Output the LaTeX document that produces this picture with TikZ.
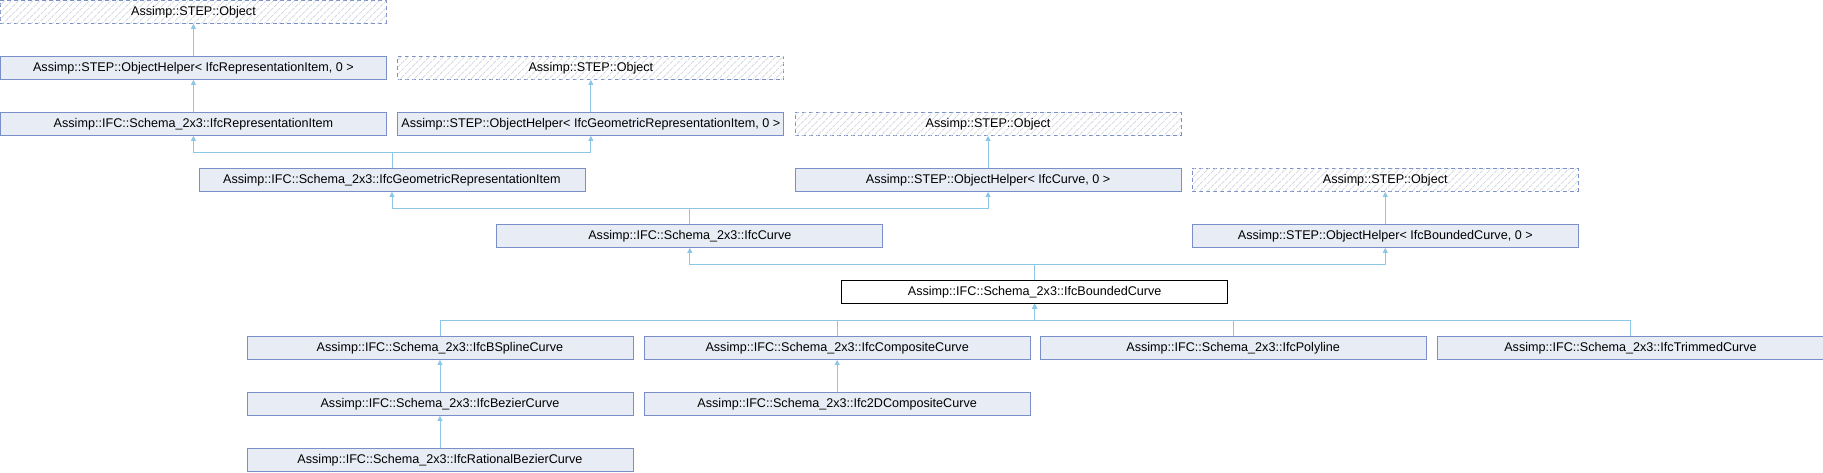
\documentclass[tikz,border=0pt]{standalone}
\usepackage{fontspec}
\setmainfont{Liberation Sans}
\usepackage{tikz}
\usetikzlibrary{arrows.meta,patterns.meta}
\definecolor{boxfill}{HTML}{E8ECF5}
\definecolor{boxline}{HTML}{7A8FC8}
\definecolor{edgeblue}{HTML}{8EC6E6}
\definecolor{hatch}{HTML}{D2D6DE}
\tikzset{
  cls/.style={draw=boxline,fill=boxfill,line width=.9pt,minimum width=386pt,minimum height=23pt,
    anchor=north west,inner sep=0pt,font=\fontsize{12.6}{14}\selectfont},
  ext/.style={cls,fill=white,dash pattern=on 4pt off 3pt,
    postaction={pattern={Lines[angle=45,distance=5pt,line width=.7pt]},pattern color=hatch}},
  current/.style={cls,draw=black,fill=white},
  inherit/.style={draw=edgeblue,line width=.9pt,-{Triangle[length=5pt,width=5pt]}}
}

\begin{document}
\begin{tikzpicture}[x=1pt,y=-1pt]
  \useasboundingbox[fill=white] (0,0) rectangle (1823,472);
  % external bases
  \node[ext] (stepObjA) at (0,0) {Assimp::STEP::Object};
  \node[ext] (stepObjB) at (397.4,56) {Assimp::STEP::Object};
  \node[ext] (stepObjC) at (794.6,112) {Assimp::STEP::Object};
  \node[ext] (stepObjD) at (1191.8,168) {Assimp::STEP::Object};
  % helpers
  \node[cls] (helperRepItem) at (0,56) {Assimp::STEP::ObjectHelper< IfcRepresentationItem, 0 >};
  \node[cls] (helperGeomItem) at (397.4,112) {Assimp::STEP::ObjectHelper< IfcGeometricRepresentationItem, 0 >};
  \node[cls] (helperCurve) at (794.6,168) {Assimp::STEP::ObjectHelper< IfcCurve, 0 >};
  \node[cls] (helperBounded) at (1191.8,224) {Assimp::STEP::ObjectHelper< IfcBoundedCurve, 0 >};
  % schema classes
  \node[cls] (repItem) at (0,112) {Assimp::IFC::Schema\_2x3::IfcRepresentationItem};
  \node[cls] (geomItem) at (198.5,168) {Assimp::IFC::Schema\_2x3::IfcGeometricRepresentationItem};
  \node[cls] (curve) at (496.4,224) {Assimp::IFC::Schema\_2x3::IfcCurve};
  \node[current] (boundedCurve) at (841.2,280) {Assimp::IFC::Schema\_2x3::IfcBoundedCurve};
  \node[cls] (bspline) at (246.5,336) {Assimp::IFC::Schema\_2x3::IfcBSplineCurve};
  \node[cls] (composite) at (643.7,336) {Assimp::IFC::Schema\_2x3::IfcCompositeCurve};
  \node[cls] (polyline) at (1039.7,336) {Assimp::IFC::Schema\_2x3::IfcPolyline};
  \node[cls] (trimmed) at (1437,336) {Assimp::IFC::Schema\_2x3::IfcTrimmedCurve};
  \node[cls] (bezier) at (246.5,392) {Assimp::IFC::Schema\_2x3::IfcBezierCurve};
  \node[cls] (composite2d) at (643.7,392) {Assimp::IFC::Schema\_2x3::Ifc2DCompositeCurve};
  \node[cls] (rationalBezier) at (246.5,448) {Assimp::IFC::Schema\_2x3::IfcRationalBezierCurve};
  % inheritance
  \draw[inherit] (helperRepItem.north) -- (stepObjA.south);
  \draw[inherit] (repItem.north) -- (helperRepItem.south);
  \draw[inherit] (helperGeomItem.north) -- (stepObjB.south);
  \draw[inherit] (geomItem.north) -- ++(0,-16) -| (repItem.south);
  \draw[inherit] (geomItem.north) -- ++(0,-16) -| (helperGeomItem.south);
  \draw[inherit] (helperCurve.north) -- (stepObjC.south);
  \draw[inherit] (curve.north) -- ++(0,-16) -| (geomItem.south);
  \draw[inherit] (curve.north) -- ++(0,-16) -| (helperCurve.south);
  \draw[inherit] (helperBounded.north) -- (stepObjD.south);
  \draw[inherit] (boundedCurve.north) -- ++(0,-16) -| (curve.south);
  \draw[inherit] (boundedCurve.north) -- ++(0,-16) -| (helperBounded.south);
  \foreach \sub in {bspline,composite,polyline,trimmed}
    \draw[inherit] (\sub.north) -- ++(0,-16) -| (boundedCurve.south);
  \draw[inherit] (bezier.north) -- (bspline.south);
  \draw[inherit] (composite2d.north) -- (composite.south);
  \draw[inherit] (rationalBezier.north) -- (bezier.south);
\end{tikzpicture}
\end{document}
